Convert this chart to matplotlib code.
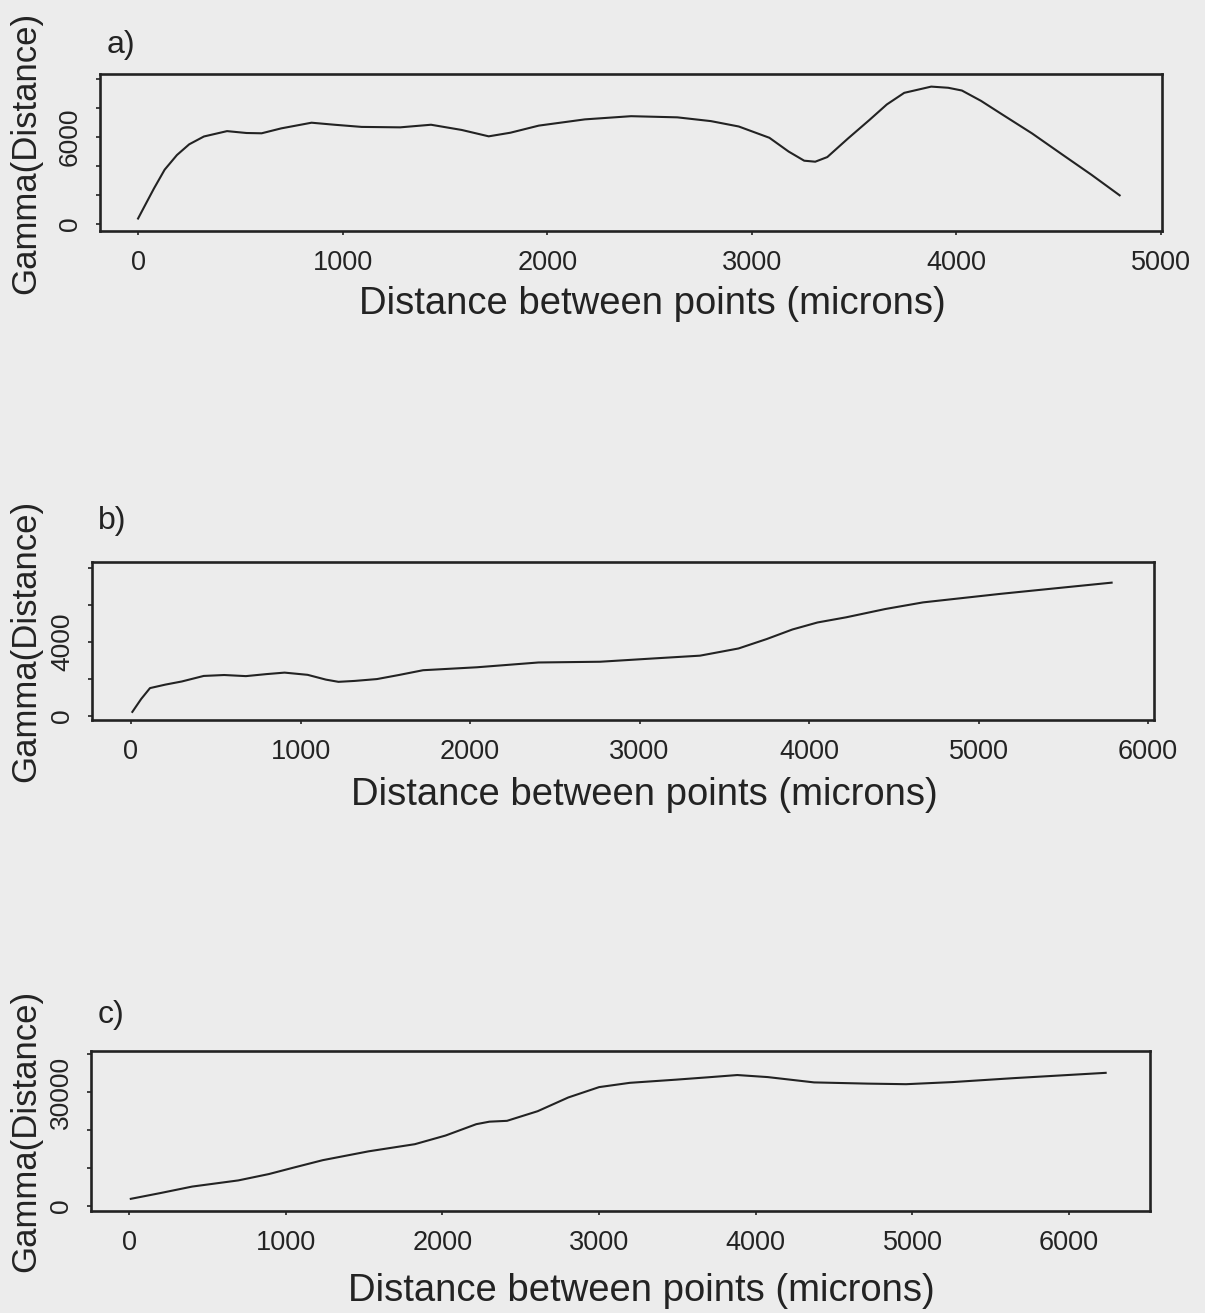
import matplotlib
matplotlib.use("Agg")
import matplotlib.pyplot as plt

plt.rcParams['font.family'] = ['Liberation Sans', 'DejaVu Sans']

# panel a
dist_a = [0, 40, 78, 130, 190, 250, 322, 435, 530, 604, 700, 848, 960, 1093,
          1281, 1432, 1582, 1714, 1820, 1959, 2184, 2410, 2636, 2800, 2936,
          3086, 3180, 3256, 3310, 3369, 3470, 3575, 3660, 3745, 3877, 3960,
          4027, 4120, 4215, 4370, 4516, 4660, 4798]
gamma_a = [380, 1450, 2460, 3750, 4760, 5500, 6040, 6410, 6280, 6260, 6600,
           6990, 6850, 6700, 6670, 6850, 6490, 6050, 6300, 6790, 7220, 7440,
           7360, 7100, 6730, 5950, 5000, 4370, 4300, 4620, 5900, 7180, 8250,
           9050, 9480, 9400, 9210, 8500, 7640, 6250, 4810, 3400, 1980]

# panel b
dist_b = [8, 60, 112, 203, 300, 429, 550, 678, 800, 906, 1042, 1150, 1224,
          1320, 1451, 1580, 1723, 2041, 2404, 2767, 3085, 3357, 3584, 3750,
          3902, 4050, 4219, 4450, 4673, 5127, 5450, 5785]
gamma_b = [200, 900, 1490, 1680, 1850, 2150, 2200, 2140, 2250, 2330, 2210,
           1950, 1830, 1880, 1980, 2200, 2460, 2620, 2880, 2920, 3100, 3250,
           3640, 4150, 4670, 5050, 5330, 5780, 6140, 6600, 6900, 7210]

# panel c
dist_c = [11, 200, 403, 697, 892, 1050, 1236, 1529, 1824, 2020, 2216, 2300,
          2412, 2608, 2803, 3000, 3196, 3490, 3700, 3882, 4076, 4372, 4713,
          4959, 5253, 5645, 6233]
gamma_c = [1880, 3400, 5110, 6730, 8400, 10100, 12060, 14390, 16270, 18550,
           21540, 22200, 22420, 24960, 28570, 31300, 32430, 33260, 33900,
           34480, 33940, 32540, 32220, 32070, 32620, 33660, 35060]

panels = [
    ('a)', dist_a, gamma_a, [0, 1000, 2000, 3000, 4000, 5000],
     [0, 2000, 4000, 6000, 8000, 10000], ['0', '', '', '6000', '', '']),
    ('b)', dist_b, gamma_b, [0, 1000, 2000, 3000, 4000, 5000, 6000],
     [0, 2000, 4000, 6000, 8000], ['0', '', '4000', '', '']),
    ('c)', dist_c, gamma_c, [0, 1000, 2000, 3000, 4000, 5000, 6000],
     [0, 10000, 20000, 30000, 40000], ['0', '', '', '30000', '']),
]

W, H = 1205, 1313
bg = '#ececec'
ink = '#232323'

fig = plt.figure(figsize=(W / 100, H / 100), dpi=100, facecolor=bg)

# axes boxes in pixels: left, top, right, bottom
boxes = [(100, 74, 1162, 231), (92, 562, 1154, 720), (91, 1051, 1150, 1211)]
xlims = [(-186, 5005), (-230, 6035), (-243, 6516)]
ylims = [(-480, 10350), (-240, 8330), (-1325, 40810)]
tag_pos = [(107, 45), (98, 521), (98, 1015)]
xlab_y = [-0.35, -0.36, -0.385]

for i, (tag, xs, ys, xt, yt, ytl) in enumerate(panels):
    l, t, r, b = boxes[i]
    ax = fig.add_axes([l / W, 1 - b / H, (r - l) / W, (b - t) / H])
    ax.set_facecolor(bg)
    ax.plot(xs, ys, color=ink, lw=1.5)
    ax.set_xlim(*xlims[i])
    ax.set_ylim(*ylims[i])
    ax.set_xticks(xt)
    ax.set_yticks(yt)
    ax.set_yticklabels(ytl)
    for s in ax.spines.values():
        s.set_linewidth(1.9)
        s.set_color(ink)
    ax.tick_params(axis='x', length=3, width=1.2, color=ink, labelsize=19.5,
                   pad=11, labelcolor=ink)
    ax.tick_params(axis='y', length=3, width=1.2, color=ink, labelsize=19,
                   pad=10, labelcolor=ink, labelrotation=90)
    for lbl in ax.get_yticklabels():
        lbl.set_va('center')
    ax.set_xlabel('Distance between points (microns)', fontsize=27.5, color=ink)
    ax.xaxis.set_label_coords(0.52, xlab_y[i])
    ax.set_ylabel('Gamma(Distance)', fontsize=25, color=ink)
    ax.yaxis.set_label_coords((42 - l) / (r - l), 0.5)
    fig.text(tag_pos[i][0] / W, 1 - tag_pos[i][1] / H, tag, fontsize=23,
             color=ink, ha='left', va='center')

fig.savefig('out.png', dpi=100, facecolor=bg)
